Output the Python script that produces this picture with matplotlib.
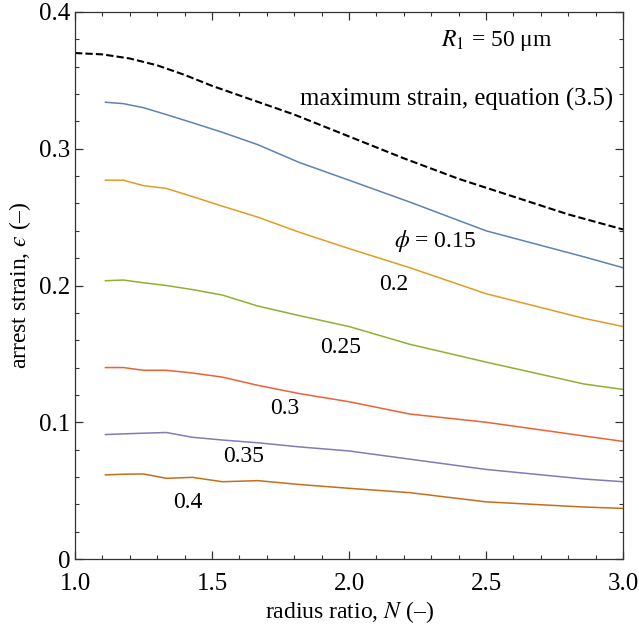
import matplotlib
matplotlib.use('Agg')
import matplotlib.pyplot as plt
from matplotlib.ticker import MultipleLocator

plt.rcParams['font.family'] = ['Liberation Serif', 'DejaVu Serif']
plt.rcParams['mathtext.fontset'] = 'stix'

# radius ratio values where the simulations were run
N_sim = [1.111, 1.176, 1.25, 1.333, 1.429, 1.538, 1.667, 1.818, 2.0, 2.222, 2.5, 2.857, 3.0]

# arrest strain for each volume fraction phi
strain_015 = [0.334, 0.333, 0.330, 0.325, 0.319, 0.312, 0.303, 0.290, 0.277, 0.261, 0.240, 0.221, 0.213]
strain_020 = [0.277, 0.277, 0.273, 0.271, 0.265, 0.258, 0.250, 0.239, 0.227, 0.213, 0.194, 0.176, 0.170]
strain_025 = [0.2035, 0.204, 0.202, 0.200, 0.197, 0.193, 0.185, 0.178, 0.170, 0.157, 0.144, 0.128, 0.124]
strain_030 = [0.140, 0.140, 0.138, 0.138, 0.136, 0.133, 0.127, 0.121, 0.115, 0.106, 0.100, 0.090, 0.086]
strain_035 = [0.091, 0.0915, 0.092, 0.0925, 0.089, 0.087, 0.085, 0.082, 0.079, 0.073, 0.0655, 0.0585, 0.0565]
strain_040 = [0.0615, 0.062, 0.0622, 0.059, 0.0597, 0.0565, 0.0573, 0.0545, 0.0517, 0.0485, 0.0418, 0.038, 0.037]

# maximum strain from equation (3.5)
N_max = [1.0, 1.1, 1.2, 1.3, 1.4, 1.5, 1.6, 1.7, 1.8, 1.9, 2.0, 2.2, 2.4, 2.6, 2.8, 3.0]
strain_max = [0.370, 0.369, 0.366, 0.361, 0.354, 0.346, 0.339, 0.332, 0.325, 0.317,
              0.309, 0.293, 0.278, 0.265, 0.252, 0.241]

curves = [strain_015, strain_020, strain_025, strain_030, strain_035, strain_040]
colors = ['#5E81B5', '#E19C24', '#8FB131', '#EB6235', '#8778B6', '#C56E1A']
labels = ['$\\phi$ = 0.15', '0.2', '0.25', '0.3', '0.35', '0.4']
# label positions (N, strain)
label_pos = [(2.314, 0.2325), (2.164, 0.2004), (1.971, 0.155),
             (1.766, 0.1104), (1.617, 0.0746), (1.412, 0.041)]

fig = plt.figure(figsize=(6.39, 6.25), dpi=100)
ax = fig.add_axes([0.1174, 0.1056, 0.8576, 0.8752])

ax.plot(N_max, strain_max, color='black', lw=1.5, dashes=(3.5, 1.5))
for y, c in zip(curves, colors):
    ax.plot(N_sim, y, color=c, lw=1.1)

for txt, (x, y) in zip(labels, label_pos):
    ax.text(x, y, txt, fontsize=17, ha='center', va='center')

ax.text(2.54, 0.3795, '$R_1$ = 50 \u03bcm', fontsize=17, ha='center', va='center')
ax.text(2.963, 0.3357, 'maximum strain, equation (3.5)', fontsize=17.8, ha='right', va='center')

ax.set_xlim(1.0, 3.0)
ax.set_ylim(0, 0.4)
ax.xaxis.set_minor_locator(MultipleLocator(0.1))
ax.yaxis.set_minor_locator(MultipleLocator(0.02))
ax.set_yticks([0, 0.1, 0.2, 0.3, 0.4])
ax.set_yticklabels(['0', '0.1', '0.2', '0.3', '0.4'])
ax.set_xticks([1.0, 1.5, 2.0, 2.5, 3.0])
ax.set_xticklabels(['1.0', '1.5', '2.0', '2.5', '3.0'])

ax.tick_params(which='both', direction='in', top=True, right=True, labelsize=18, color='#333333')
ax.tick_params(which='major', length=6, width=0.9)
ax.tick_params(which='minor', length=3, width=0.8)
ax.tick_params(axis='x', which='major', pad=10)
for s in ax.spines.values():
    s.set_linewidth(0.9)
    s.set_color('#333333')

ax.set_xlabel('radius ratio, $N$ (\u2013)', fontsize=17, labelpad=3)
# lunate epsilon as in the reference
ax.set_ylabel('arrest strain, $\u03f5$ (\u2013)', fontsize=17, labelpad=4)

plt.savefig('out.png', dpi=100)
